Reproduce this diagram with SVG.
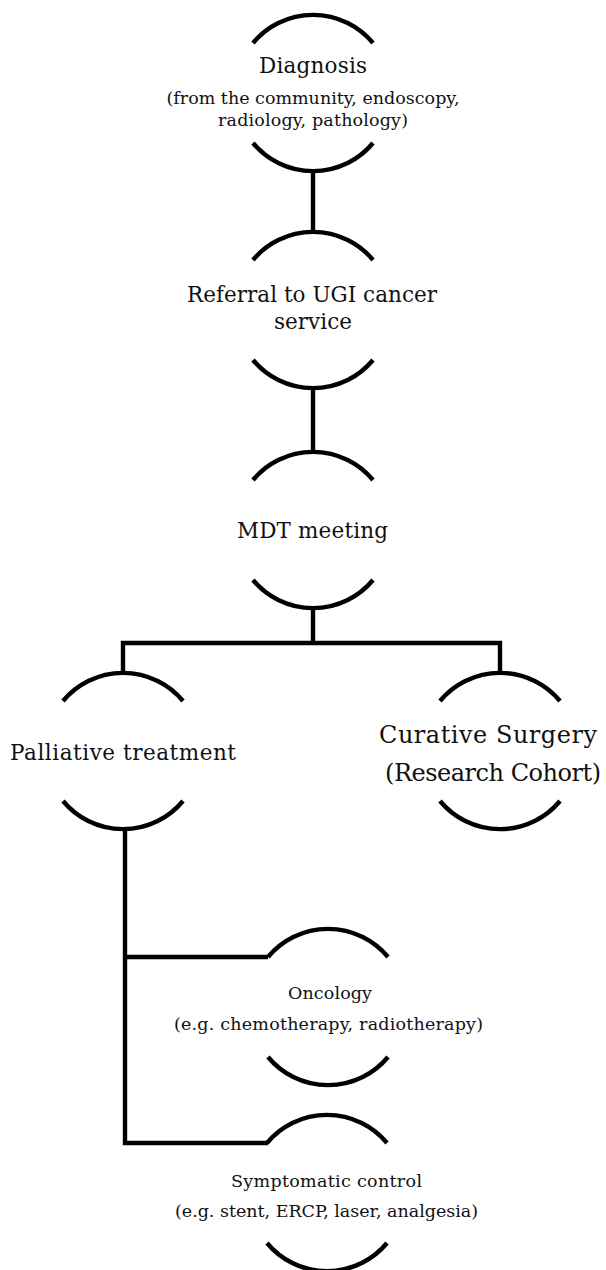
<svg xmlns="http://www.w3.org/2000/svg" width="606" height="1270" viewBox="0 0 606 1270">
  <style>
    .arc { fill: none; stroke: #000; stroke-width: 4.4; stroke-linecap: butt; }
    .link { fill: none; stroke: #000; stroke-width: 4.4; stroke-linejoin: miter; stroke-linecap: butt; }
    text { font-family: "DejaVu Serif", "Liberation Serif", serif; fill: #111; text-anchor: middle; }
    .t1 { font-size: 21.5px; }
    .t2 { font-size: 17.5px; }
    .t3 { font-size: 24px; }
  </style>
  <rect width="606" height="1270" fill="#fff"/>

  <!-- connectors -->
  <g id="connectors">
    <path class="link" d="M313,170 V232"/>
    <path class="link" d="M313,388 V452"/>
    <path class="link" d="M313,608 V643 M123,673 V643 H500 V673"/>
    <path class="link" d="M125,829 V1143 H268 M123,957 H268"/>
  </g>

  <!-- each node: a broken circle (r=78) with its label inside -->
  <g id="diagnosis">
    <path class="arc" d="M253,43 A78,78 0 0 1 373,43 M253,143 A78,78 0 0 0 373,143"/>
    <text class="t1" x="313" y="73" textLength="108">Diagnosis</text>
    <text class="t2" x="313" y="104">(from the community, endoscopy,</text>
    <text class="t2" x="313" y="126" textLength="190">radiology, pathology)</text>
  </g>

  <g id="referral">
    <path class="arc" d="M253,260 A78,78 0 0 1 373,260 M253,360 A78,78 0 0 0 373,360"/>
    <text class="t1" x="312" y="302" textLength="250">Referral to UGI cancer</text>
    <text class="t1" x="313" y="329">service</text>
  </g>

  <g id="mdt">
    <path class="arc" d="M253,480 A78,78 0 0 1 373,480 M253,580 A78,78 0 0 0 373,580"/>
    <text class="t1" x="312.5" y="538" textLength="151">MDT meeting</text>
  </g>

  <g id="palliative">
    <path class="arc" d="M63,701 A78,78 0 0 1 183,701 M63,801 A78,78 0 0 0 183,801"/>
    <text class="t1" x="123" y="760" textLength="226">Palliative treatment</text>
  </g>

  <g id="curative">
    <path class="arc" d="M440,701 A78,78 0 0 1 560,701 M440,801 A78,78 0 0 0 560,801"/>
    <text class="t3" x="488" y="743" textLength="218">Curative Surgery</text>
    <text class="t3" x="493" y="781" textLength="216">(Research Cohort)</text>
  </g>

  <g id="oncology">
    <path class="arc" d="M268,957 A78,78 0 0 1 388,957 M268,1057 A78,78 0 0 0 388,1057"/>
    <text class="t2" x="330" y="999" textLength="84">Oncology</text>
    <text class="t2" x="328.5" y="1030" textLength="309">(e.g. chemotherapy, radiotherapy)</text>
  </g>

  <g id="symptomatic">
    <path class="arc" d="M267,1143 A78,78 0 0 1 387,1143 M267,1243 A78,78 0 0 0 387,1243"/>
    <text class="t2" x="326.5" y="1187" textLength="191">Symptomatic control</text>
    <text class="t2" x="326.5" y="1217" textLength="303">(e.g. stent, ERCP, laser, analgesia)</text>
  </g>
</svg>
